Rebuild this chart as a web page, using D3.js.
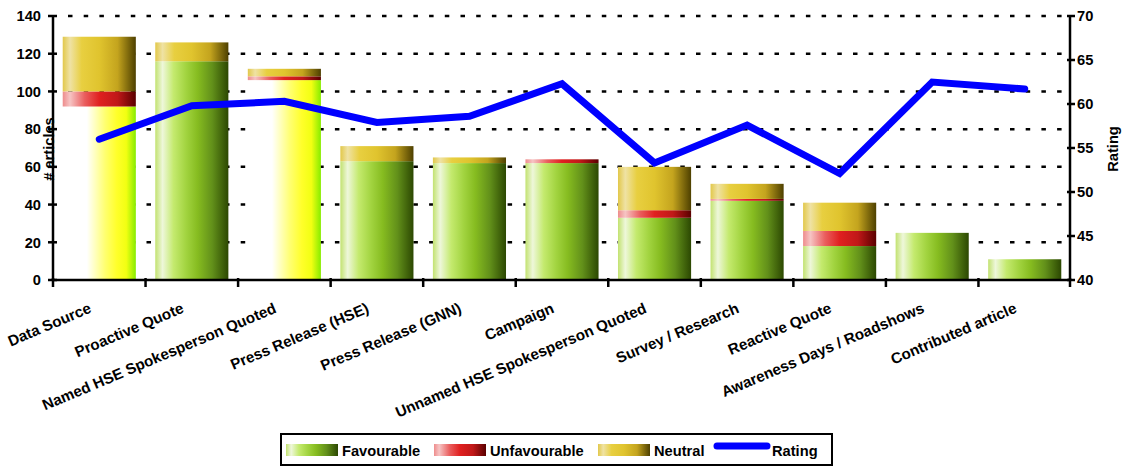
<!DOCTYPE html>
<html>
<head>
<meta charset="utf-8">
<script src="https://cdn.jsdelivr.net/npm/d3@7"></script>
<style>
  html, body { margin: 0; padding: 0; background: #fff; }
  svg { display: block; font-family: "Liberation Sans", Arial, sans-serif; font-weight: bold; }
</style>
</head>
<body>
<svg id="chart" width="1124" height="467"></svg>
<script>
// Media coverage by article source: tone breakdown (# articles) and average rating
const categories = [
  "Data Source", "Proactive Quote", "Named HSE Spokesperson Quoted",
  "Press Release (HSE)", "Press Release (GNN)", "Campaign",
  "Unnamed HSE Spokesperson Quoted", "Survey / Research", "Reactive Quote",
  "Awareness Days / Roadshows", "Contributed article"
];
const favourable   = [92, 116, 106, 63, 62, 62, 33, 42, 18, 25, 11];
const unfavourable = [8, 0, 2, 0, 0, 2, 4, 1, 8, 0, 0];
const neutral      = [29, 10, 4, 8, 3, 0, 23, 8, 15, 0, 0];
const rating       = [56.0, 59.8, 60.3, 57.9, 58.6, 62.3, 53.3, 57.6, 52.1, 62.5, 61.7];

const articleTicks = [0, 20, 40, 60, 80, 100, 120, 140];
const ratingTicks  = [40, 45, 50, 55, 60, 65, 70];
const seriesNames  = ["Favourable", "Unfavourable", "Neutral"];

// Favourable segments on these categories are filled with the yellow variant
const yellowFavourable = new Set(["Data Source", "Named HSE Spokesperson Quoted"]);

const svg = d3.select("#chart");
const FONT = "11pt";
const CAT_FONT = "15.2px";

const plot = { left: 53, right: 1071, top: 16, bottom: 280 };

const x = d3.scaleBand()
  .domain(categories)
  .range([plot.left, plot.right])
  .paddingInner(0.21)
  .paddingOuter(0.105);

const yLeft = d3.scaleLinear().domain([0, 140]).range([plot.bottom, plot.top]);
const yRight = d3.scaleLinear().domain([40, 70]).range([plot.bottom, plot.top]);

// ---- gradients (horizontal, cylinder-like shading) ----
const defs = svg.append("defs");
const gradients = {
  fav: [[0, "#c2e270"], [0.1, "#eef7da"], [0.25, "#c4ea6e"], [0.42, "#a2d440"], [0.58, "#86bc20"], [0.78, "#62901a"], [1, "#2c4802"]],
  unf: [[0, "#ee8c8c"], [0.1, "#f6c4c4"], [0.3, "#ea5e5e"], [0.5, "#e02020"], [0.75, "#c01818"], [1, "#5a0000"]],
  neu: [[0, "#e2c84a"], [0.1, "#efe2a4"], [0.26, "#e8cf40"], [0.5, "#e0c42e"], [0.75, "#c4a41e"], [1, "#4e4000"]],
  yel: [[0, "#ffffff"], [0.33, "#ffffff"], [0.58, "#ffff70"], [0.74, "#ffff2a"], [0.87, "#f2ff12"], [1, "#86ec00"]]
};
Object.entries(gradients).forEach(([id, stops]) => {
  const g = defs.append("linearGradient").attr("id", "g-" + id)
    .attr("x1", "0").attr("x2", "1").attr("y1", "0").attr("y2", "0");
  stops.forEach(([o, c]) => g.append("stop").attr("offset", o).attr("stop-color", c));
});

// ---- gridlines (left scale) ----
svg.append("g")
  .selectAll("line")
  .data(articleTicks.filter(t => t > 0))
  .join("line")
  .attr("x1", plot.left + 15)
  .attr("x2", plot.right - 2)
  .attr("y1", d => yLeft(d))
  .attr("y2", d => yLeft(d))
  .attr("stroke", "#000")
  .attr("stroke-width", 2.5)
  .attr("stroke-dasharray", "4.5 11.2");

// ---- stacked bars ----
const rows = categories.map((c, i) => ({
  category: c,
  Favourable: favourable[i],
  Unfavourable: unfavourable[i],
  Neutral: neutral[i]
}));
const stacked = d3.stack().keys(seriesNames)(rows);
const fillFor = (key, cat) => {
  if (key === "Favourable") return yellowFavourable.has(cat) ? "url(#g-yel)" : "url(#g-fav)";
  if (key === "Unfavourable") return "url(#g-unf)";
  return "url(#g-neu)";
};

svg.append("g")
  .selectAll("g")
  .data(stacked)
  .join("g")
  .selectAll("rect")
  .data(s => s.map(d => ({ key: s.key, d })))
  .join("rect")
  .filter(v => v.d[1] - v.d[0] > 0)
  .attr("x", v => x(v.d.data.category))
  .attr("width", x.bandwidth())
  .attr("y", v => yLeft(v.d[1]))
  .attr("height", v => yLeft(v.d[0]) - yLeft(v.d[1]))
  .attr("fill", v => fillFor(v.key, v.d.data.category));

// ---- axes ----
const axisColor = "#000";
const axisG = svg.append("g").attr("stroke", axisColor).attr("stroke-width", 2.5);

// left axis line + ticks
axisG.append("line").attr("x1", plot.left).attr("x2", plot.left)
  .attr("y1", yLeft(140)).attr("y2", yLeft(0));
axisG.selectAll(".lt").data(articleTicks).join("line").attr("class", "lt")
  .attr("x1", plot.left - 5).attr("x2", plot.left + 4)
  .attr("y1", d => yLeft(d)).attr("y2", d => yLeft(d));

// right axis line + ticks
axisG.append("line").attr("x1", plot.right - 1).attr("x2", plot.right - 1)
  .attr("y1", yRight(70)).attr("y2", yRight(40));
axisG.selectAll(".rt").data(ratingTicks).join("line").attr("class", "rt")
  .attr("x1", plot.right - 4).attr("x2", plot.right + 4)
  .attr("y1", d => yRight(d)).attr("y2", d => yRight(d));

// bottom axis line + category boundary ticks
axisG.append("line").attr("x1", plot.left).attr("x2", plot.right)
  .attr("y1", plot.bottom).attr("y2", plot.bottom);
const boundaries = categories.map(c => x(c) - x.step() * x.paddingInner() / 2);
boundaries.push(plot.right - 1);
axisG.selectAll(".bt").data(boundaries).join("line").attr("class", "bt")
  .attr("x1", d => d).attr("x2", d => d)
  .attr("y1", plot.bottom - 2).attr("y2", plot.bottom + 7);

// tick labels
svg.append("g").selectAll("text").data(articleTicks).join("text")
  .attr("x", 41).attr("y", d => yLeft(d)).attr("dy", "0.36em")
  .attr("text-anchor", "end").style("font-size", FONT)
  .text(d => d);

svg.append("g").selectAll("text").data(ratingTicks).join("text")
  .attr("x", 1077).attr("y", d => yRight(d)).attr("dy", "0.36em")
  .attr("text-anchor", "start").style("font-size", FONT)
  .text(d => d);

svg.append("g").selectAll("text").data(categories).join("text")
  .attr("transform", d => `translate(${x(d) + x.bandwidth() / 2 - 7},312) rotate(-23)`)
  .attr("text-anchor", "end").style("font-size", CAT_FONT)
  .text(d => d);

// axis titles
svg.append("text")
  .attr("transform", "translate(54,149) rotate(-90)")
  .attr("text-anchor", "middle").style("font-size", FONT)
  .text("# articles");
svg.append("text")
  .attr("transform", "translate(1118,149) rotate(-90)")
  .attr("text-anchor", "middle").style("font-size", FONT)
  .text("Rating");

// ---- rating line ----
const line = d3.line()
  .x((d, i) => x(categories[i]) + x.bandwidth() / 2)
  .y(d => yRight(d));
svg.append("path")
  .datum(rating)
  .attr("d", line)
  .attr("fill", "none")
  .attr("stroke", "#0000ff")
  .attr("stroke-width", 7)
  .attr("stroke-linecap", "round")
  .attr("stroke-linejoin", "miter");

// ---- legend ----
const legend = svg.append("g");
legend.append("rect")
  .attr("x", 281).attr("y", 434).attr("width", 551).attr("height", 31)
  .attr("fill", "#fff").attr("stroke", "#000").attr("stroke-width", 2);

const legendItems = [
  { label: "Favourable", fill: "url(#g-fav)", sx: 286, tx: 342 },
  { label: "Unfavourable", fill: "url(#g-unf)", sx: 434, tx: 490 },
  { label: "Neutral", fill: "url(#g-neu)", sx: 598, tx: 654 }
];
legendItems.forEach(it => {
  legend.append("rect").attr("x", it.sx).attr("y", 444).attr("width", 52).attr("height", 12)
    .attr("fill", it.fill);
  legend.append("text").attr("x", it.tx).attr("y", 455.5).style("font-size", FONT).text(it.label);
});
legend.append("line")
  .attr("x1", 717).attr("x2", 767).attr("y1", 446).attr("y2", 446)
  .attr("stroke", "#0000ff").attr("stroke-width", 7).attr("stroke-linecap", "round");
legend.append("text").attr("x", 772).attr("y", 455.5).style("font-size", FONT).text("Rating");
</script>
</body>
</html>
